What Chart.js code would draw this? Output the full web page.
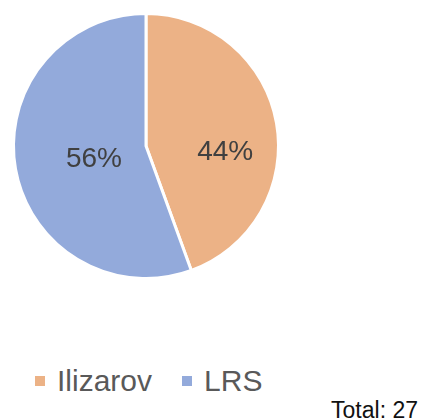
<!DOCTYPE html>
<html lang="en">

<head>
    <meta charset="UTF-8">
    <title>Ilizarov vs LRS</title>
    <style>
        body {
            margin: 0;
            background: #ffffff;
            font-family: 'Liberation Sans', Arial, sans-serif;
        }

        .wrap {
            position: relative;
            width: 421px;
            height: 419px;
            overflow: hidden;
        }

        .pie-box {
            position: absolute;
            left: 0;
            top: 0;
            width: 292px;
            height: 292px;
        }

        #legend {
            position: absolute;
            left: 35px;
            top: 362px;
            display: flex;
            align-items: center;
            font-size: 30px;
            line-height: 38px;
            color: #595959;
            white-space: nowrap;
        }

        #legend .item {
            display: flex;
            align-items: center;
            margin-right: 30px;
        }

        #legend .swatch {
            width: 10px;
            height: 10px;
            margin-right: 12px;
        }

        .total {
            position: absolute;
            right: 3px;
            top: 397px;
            font-size: 23px;
            line-height: 26px;
            color: #111111;
        }
    </style>
</head>

<body>
    <div class="wrap">
        <div class="pie-box">
            <canvas id="pie"></canvas>
        </div>
        <div id="legend"></div>
        <div class="total" id="total"></div>
    </div>

    <script src="https://cdn.jsdelivr.net/npm/chart.js"></script>
    <script>
        // data (12 + 15 = 27 cases)
        const categories = ['Ilizarov', 'LRS'];
        const cases = [12, 15];

        const sliceColors = ['#ECB286', '#93AADB'];
        // label placement: share of the radius, and turn away from the slice's mid angle (deg)
        const labelRadius = [0.6, 0.405];
        const labelTurn = [14.7, -4.2];

        const total = cases.reduce((a, b) => a + b, 0);

        // percentage labels inside the slices
        const sliceLabels = {
            id: 'sliceLabels',
            afterDatasetsDraw(chart) {
                const ctx = chart.ctx;
                const meta = chart.getDatasetMeta(0);
                ctx.save();
                ctx.font = '28px "Liberation Sans", Arial, sans-serif';
                ctx.fillStyle = '#404040';
                ctx.textAlign = 'center';
                ctx.textBaseline = 'middle';
                meta.data.forEach((arc, i) => {
                    const p = arc.getProps(['x', 'y', 'startAngle', 'endAngle', 'outerRadius'], true);
                    const ang = (p.startAngle + p.endAngle) / 2 + labelTurn[i] * Math.PI / 180;
                    const r = p.outerRadius * labelRadius[i];
                    const pct = Math.round(cases[i] / total * 100) + '%';
                    ctx.fillText(pct, p.x + Math.cos(ang) * r, p.y + Math.sin(ang) * r);
                });
                ctx.restore();
            }
        };

        const chart = new Chart(document.getElementById('pie'), {
            type: 'pie',
            data: {
                labels: categories,
                datasets: [{
                    data: cases,
                    backgroundColor: sliceColors,
                    borderColor: '#ffffff',
                    borderWidth: 3,
                }]
            },
            options: {
                responsive: true,
                maintainAspectRatio: false,
                animation: false,
                layout: {
                    padding: 12
                },
                plugins: {
                    legend: { display: false },
                    tooltip: { enabled: false }
                }
            },
            plugins: [sliceLabels]
        });

        // html legend built from the chart's own labels
        const legendEl = document.getElementById('legend');
        chart.options.plugins.legend.labels.generateLabels(chart).forEach(item => {
            const div = document.createElement('div');
            div.className = 'item';
            const sw = document.createElement('span');
            sw.className = 'swatch';
            sw.style.background = item.fillStyle;
            const txt = document.createElement('span');
            txt.textContent = item.text;
            div.appendChild(sw);
            div.appendChild(txt);
            legendEl.appendChild(div);
        });

        document.getElementById('total').textContent = 'Total: ' + total;
    </script>
</body>

</html>
